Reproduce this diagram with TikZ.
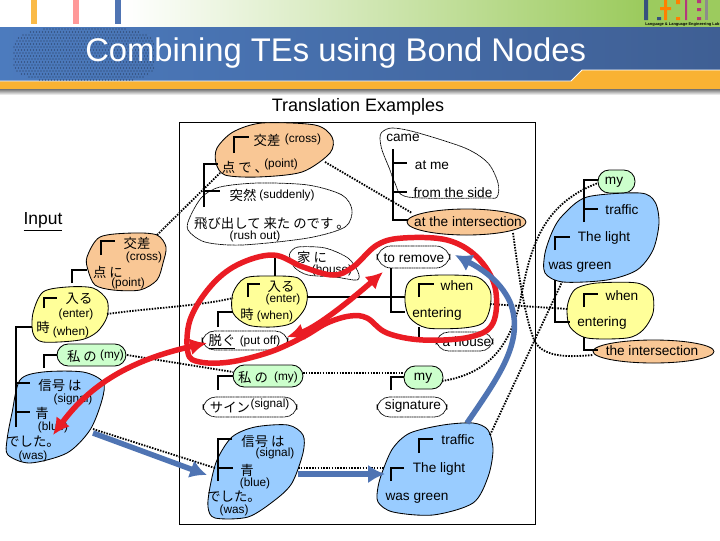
\documentclass[tikz,border=0pt]{standalone}
\usepackage{fontspec}
\setmainfont{Liberation Sans}
\newfontfamily\jpfont{Noto Sans CJK JP}
\usepackage{tikz}
\usetikzlibrary{arrows.meta,positioning,shapes.geometric}
\definecolor{ink}{HTML}{000000}
\definecolor{bandL}{HTML}{4C7BBE}
\definecolor{bandR}{HTML}{3F5F94}
\definecolor{leaf}{HTML}{9CCB5E}
\definecolor{amber}{HTML}{F9B233}
\definecolor{arrowblue}{HTML}{4F74B3}
\definecolor{arrowred}{HTML}{EA1C24}
\definecolor{bondorange}{HTML}{F9C795}
\definecolor{bondyellow}{HTML}{FFFF99}
\definecolor{bondgreen}{HTML}{CCFFCC}
\definecolor{bondblue}{HTML}{99CCFF}
\tikzset{
  blob/.style={draw=ink,line width=0.6pt,fill=#1},
  thinblob/.style={draw=ink,line width=0.5pt,dash pattern=on 0.9pt off 0.3pt,fill=white},
  tree/.style={draw=ink,line width=1.5pt},
  link/.style={draw=ink,line width=1.3pt,dash pattern=on 1.1pt off 0.9pt},
  redflow/.style={draw=arrowred,line width=3.9pt},
  redhead/.style={{Latex[length=4.2mm,width=4.2mm]}-{Latex[length=4.2mm,width=4.2mm]}},
  blueflow/.style={draw=arrowblue,line width=3.9pt,-{Latex[length=4.2mm,width=4.6mm]}},
  jp/.style={font=\jpfont\fontsize{9.5}{11}\selectfont,inner sep=0pt},
  gloss/.style={font=\fontsize{8.4}{10}\selectfont,inner sep=0pt},
  eng/.style={font=\fontsize{9.7}{11}\selectfont,inner sep=0pt},
}
\begin{document}
\begin{tikzpicture}[x=0.025cm,y=-0.025cm]
  \useasboundingbox (0,0) rectangle (720,540);
  % header
  \fill[white] (0,0) rectangle (720,540);
  \shade[left color=white,right color=leaf] (125,0) rectangle (640,27);
  \fill[leaf] (640,0) rectangle (720,27);
  \fill[amber!90!white] (31,0) rectangle (37,24);
  \fill[red!40!white] (73,0) rectangle (79,24);
  \fill[arrowblue] (115,0) rectangle (121,24);
  \shade[top color=black!55,bottom color=white] (0,89) rectangle (720,95);
  \fill[amber] (0,81) rectangle (720,89);
  \shade[left color=bandL,right color=bandR] (0,27) -- (720,27) -- (720,70) -- (582,70) -- (571,81) -- (0,81) -- cycle;
  \fill[amber] (571,81) -- (582,70) -- (720,70) -- (720,82) -- (571,82) -- cycle;
  \draw[white,line width=0.6pt] (0,81) -- (571,81) -- (582,70) -- (720,70);
  \foreach \i in {0,...,46}
    \foreach \j in {0,...,17}{
      \pgfmathsetmacro{\dotx}{14+\i*3+mod(\j,2)*1.5}
      \pgfmathsetmacro{\doty}{29+\j*3}
      \pgfmathparse{abs((\dotx-85)/73)^3+abs((\doty-55)/28)^3<1?1:0}
      \ifnum\pgfmathresult=1 \fill[bandR!60!black] (\dotx,\doty) circle (0.6);\fi
    }
  % logo
  \fill[arrowblue!70!black] (644,0) rectangle (648,20) (657,17) rectangle (661,20);
  \fill[orange] (664,0) rectangle (667,20) (660,7) rectangle (671,10) (676,0) rectangle (680,4) (676,17) rectangle (680,20);
  \fill[magenta!70!black] (685,0) rectangle (687,20) (697,0) rectangle (701,3) (697,8) rectangle (701,11) (697,17) rectangle (701,20);
  \fill[black!45] (705,0) rectangle (708,20);
  \node[font=\bfseries\fontsize{2.8}{3}\selectfont,inner sep=0pt,anchor=west] (logotext) at (645,24) {Language \& Language Engineering Lab};
  \node[font=\fontsize{23.3}{27}\selectfont,text=white,inner sep=0pt,anchor=west] (title) at (85,53) {Combining TEs using Bond Nodes};
  \node[fill=white,font=\fontsize{12.8}{15}\selectfont,inner sep=1pt] (examples) at (358,107) {Translation Examples};
  \node[font=\fontsize{12.4}{14}\selectfont,inner sep=0pt] (input) at (43,222) {\underline{Input}};
  \draw[ink,line width=0.7pt] (179,122) rectangle (535,524);
  % bond nodes
  \draw[blob=bondorange] plot[smooth cycle] coordinates {(100,237) (133,233) (157,235) (166,247) (163,263) (157,280) (140,290) (113,290) (95,285) (88,270) (87,257)};
  \draw[blob=bondyellow] plot[smooth cycle] coordinates {(43,292) (67,287) (93,288) (107,300) (107,317) (97,332) (80,340) (43,342) (33,333) (33,313)};
  \draw[blob=bondgreen,rounded corners=8pt] (57,344) rectangle (126,366);
  \draw[blob=bondblue] plot[smooth cycle] coordinates {(20,380) (43,372) (83,372) (103,382) (102,400) (90,430) (67,453) (30,463) (8,455) (7,440) (12,413)};
  \draw[blob=bondorange] plot[smooth cycle] coordinates {(217,148) (233,132) (262,123) (315,125) (332,137) (330,153) (302,172) (258,177) (225,175) (216,163)};
  \draw[thinblob] plot[smooth cycle] coordinates {(220,187) (258,183) (308,185) (342,195) (352,210) (345,227) (308,238) (242,245) (205,242) (188,230) (190,217) (202,197)};
  \draw[thinblob] plot[smooth cycle] coordinates {(382,132) (392,128) (415,132) (465,148) (488,163) (498,183) (497,197) (485,198) (408,197) (395,183) (390,170) (382,150) (380,138)};
  \node[blob=bondorange,ellipse,minimum width=119*0.025cm,minimum height=26*0.025cm,inner sep=0pt] (oval1) at (466.5,222) {};
  \draw[thinblob] plot[smooth cycle] coordinates {(290,253) (298,247) (325,248) (348,258) (358,272) (357,280) (335,277) (308,275) (295,268) (290,258)};
  \draw[blob=bondyellow] plot[smooth cycle] coordinates {(233,293) (245,278) (272,276) (298,278) (307,292) (305,308) (292,323) (272,327) (248,325) (233,313)};
  \draw[thinblob,rounded corners=9pt] (202,331) rectangle (288,350);
  \draw[thinblob,rounded corners=10pt] (377,246) rectangle (450,268);
  \draw[blob=bondyellow] plot[smooth cycle] coordinates {(407,285) (417,277) (443,275) (477,277) (490,290) (490,308) (483,323) (463,328) (427,328) (410,318) (405,302)};
  \draw[thinblob,rounded corners=9pt] (436,332) rectangle (493,351);
  \draw[blob=bondgreen,rounded corners=8pt] (233,365) rectangle (303,387);
  \draw[thinblob,rounded corners=9pt] (203,397) rectangle (297,417);
  \draw[blob=bondblue] plot[smooth cycle] coordinates {(217,460) (232,437) (255,427) (288,425) (303,435) (303,453) (292,483) (275,500) (248,517) (215,518) (208,507) (210,487)};
  \draw[blob=bondgreen,rounded corners=8pt] (404,366) rectangle (443,389);
  \draw[thinblob,rounded corners=9pt] (377,397) rectangle (447,417);
  \draw[blob=bondblue] plot[smooth cycle] coordinates {(393,448) (410,433) (443,425) (473,423) (488,430) (493,450) (488,477) (473,503) (433,515) (393,512) (378,502) (378,487) (383,470)};
  \draw[blob=bondgreen,rounded corners=8pt] (598,170) rectangle (635,193);
  \draw[blob=bondblue] plot[smooth cycle] coordinates {(563,215) (587,197) (640,193) (655,202) (659,223) (653,250) (637,270) (607,280) (563,282) (545,273) (545,253) (553,230)};
  \draw[blob=bondyellow] plot[smooth cycle] coordinates {(577,288) (597,283) (637,283) (652,293) (653,313) (643,330) (627,338) (587,338) (570,327) (567,310) (570,297)};
  \node[blob=bondorange,ellipse,minimum width=121*0.025cm,minimum height=23*0.025cm,inner sep=0pt] (oval2) at (653.5,351.5) {};
  % tree lines
  \draw[tree] (101,255) -- (101,241) -- (115,241);
  \draw[tree] (72,283) -- (72,270) -- (87,270);
  \draw[tree] (44,308) -- (44,298) -- (57,298);
  \draw[tree] (16,427) -- (16,327) -- (32,327);
  \draw[tree] (44,368) -- (44,355) -- (57,355);
  \draw[tree] (16,383) -- (30,383);
  \draw[tree] (16,412) -- (30,412);
  \draw[tree] (234,153) -- (234,137) -- (249,137);
  \draw[tree] (204,207) -- (204,164) -- (218,164);
  \draw[tree] (204,191) -- (220,191);
  \draw[tree] (393,149) -- (393,220) -- (408,220);
  \draw[tree] (393,163) -- (407,163);
  \draw[tree] (393,192) -- (407,192);
  \draw[tree] (275,255) -- (275,276);
  \draw[tree] (248,297) -- (248,284) -- (260,284);
  \draw[tree] (218,327) -- (218,312) -- (233,312);
  \draw[tree] (391,268) -- (391,312) -- (405,312);
  \draw[tree] (307,297) -- (405,297);
  \draw[tree] (419,297) -- (419,284) -- (434,284);
  \draw[tree] (419,327) -- (419,337);
  \draw[tree] (218,390) -- (218,376) -- (233,376);
  \draw[tree] (218,481) -- (218,439) -- (232,439);
  \draw[tree] (218,468) -- (233,468);
  \draw[tree] (391,390) -- (391,377) -- (404,377);
  \draw[tree] (419,453) -- (419,439) -- (433,439);
  \draw[tree] (391,481) -- (391,468) -- (404,468);
  \draw[tree] (584,222) -- (584,180) -- (598,180);
  \draw[tree] (584,209) -- (598,209);
  \draw[tree] (555,250) -- (555,237) -- (570,237);
  \draw[tree] (555,280) -- (555,322) -- (570,322);
  \draw[tree] (584,307) -- (584,294) -- (598,294);
  \draw[tree] (584,337) -- (584,350) -- (598,350);
  % ends of the dotted links
  \coordinate (inOrange) at (157,235);
  \coordinate (exOrange) at (220,173);
  \coordinate (exOrangeR) at (325,162);
  \coordinate (outOrange) at (412,213);
  \coordinate (outOrangeB) at (513,233);
  \coordinate (tgtOrange) at (593,355);
  \coordinate (inYellow) at (107,314);
  \coordinate (exYellow) at (233,298);
  \coordinate (outYellow) at (490,304);
  \coordinate (tgtYellow) at (568,309);
  \coordinate (inGreen) at (127,355);
  \coordinate (exGreen) at (233,372);
  \coordinate (exGreenR) at (303,373);
  \coordinate (outGreen) at (404,373);
  \coordinate (outGreenR) at (442,381);
  \coordinate (tgtGreen) at (598,183);
  \coordinate (inBlue) at (93,429);
  \coordinate (exBlue) at (215,468);
  \coordinate (exBlueR) at (298,468);
  \coordinate (outBlue) at (385,468);
  \coordinate (outBlueR) at (490,435);
  \coordinate (tgtBlue) at (562,282);
  \draw[link] (inOrange) -- (exOrange);
  \draw[link] (exOrangeR) -- (outOrange);
  \draw[link] (outOrangeB) .. controls (518,270) and (525,320) .. (535,342) .. controls (545,358) and (570,357) .. (tgtOrange);
  \draw[link] (inYellow) .. controls (150,308) and (200,306) .. (exYellow);
  \draw[link] (outYellow) -- (tgtYellow);
  \draw[link] (inGreen) -- (exGreen);
  \draw[link] (exGreenR) -- (outGreen);
  \draw[link] (outGreenR) .. controls (480,375) and (508,355) .. (520,302) .. controls (530,250) and (540,205) .. (tgtGreen);
  \draw[link] (inBlue) -- (exBlue);
  \draw[link] (exBlueR) -- (outBlue);
  \draw[link] (outBlueR) -- (tgtBlue);
  % texts of the input
  \node[jp] (in1) at (137,243) {交差};
  \node[gloss] (in1g) at (144,257) {(cross)};
  \node[jp] (in2) at (108,272) {点 に};
  \node[gloss] (in2g) at (128,283) {(point)};
  \node[jp] (in3) at (79,299) {入る};
  \node[gloss] (in3g) at (76,314) {(enter)};
  \node[jp] (in4) at (43,327) {時};
  \node[gloss] (in4g) at (71,332) {(when)};
  \node[jp] (in5) at (82,356) {私 の};
  \node[gloss] (in5g) at (112,355) {(my)};
  \node[jp] (in6) at (60,385) {信号 は};
  \node[gloss] (in6g) at (73,399) {(signal)};
  \node[jp] (in7) at (42,413) {青};
  \node[gloss] (in7g) at (53,427) {(blue)};
  \node[jp] (in8) at (33,442) {でした。};
  \node[gloss] (in8g) at (33,456) {(was)};
  % texts of the examples
  \node[jp] (ex1) at (267,140) {交差};
  \node[gloss] (ex1g) at (303,139) {(cross)};
  \node[jp] (ex2) at (245,167) {点 で 、};
  \node[gloss] (ex2g) at (281,164) {(point)};
  \node[jp] (ex3) at (243,195) {突然};
  \node[gloss] (ex3g) at (287,195) {(suddenly)};
  \node[jp] (ex4) at (272,223) {飛び出して 来た のです 。};
  \node[gloss] (ex4g) at (255,236) {(rush out)};
  \node[eng] (ex5) at (403,138) {came};
  \node[eng] (ex6) at (432,165) {at me};
  \node[eng] (ex7) at (453,193) {from the side};
  \node[eng] (ex8) at (468,222) {at the intersection};
  \node[jp] (ex9) at (312,257) {家 に};
  \node[gloss] (ex9g) at (332,270) {(house)};
  \node[jp] (ex10) at (281,287) {入る};
  \node[gloss] (ex10g) at (283,299) {(enter)};
  \node[jp] (ex11) at (247,314) {時};
  \node[gloss] (ex11g) at (275,316) {(when)};
  \node[jp] (ex12) at (222,342) {\underline{脱ぐ}};
  \node[gloss] (ex12g) at (260,341) {(put off)};
  \node[eng] (ex13) at (414,258) {to remove};
  \node[eng] (ex14) at (457,286) {when};
  \node[eng] (ex15) at (437,314) {entering};
  \node[eng] (ex16) at (467,342) {a house};
  \node[jp] (ex17) at (253,377) {私 の};
  \node[gloss] (ex17g) at (286,377) {(my)};
  \node[jp] (ex18) at (230,408) {サイン};
  \node[gloss] (ex18g) at (270,404) {(signal)};
  \node[eng] (ex19) at (423,378) {my};
  \node[eng] (ex20) at (413,406) {signature};
  \node[jp] (ex21) at (263,441) {信号 は};
  \node[gloss] (ex21g) at (275,453) {(signal)};
  \node[jp] (ex22) at (247,470) {青};
  \node[gloss] (ex22g) at (255,483) {(blue)};
  \node[jp] (ex23) at (234,497) {でした。};
  \node[gloss] (ex23g) at (234,510) {(was)};
  \node[eng] (ex24) at (458,440) {traffic};
  \node[eng] (ex25) at (439,469) {The light};
  \node[eng] (ex26) at (417,498) {was green};
  % texts of the target
  \node[eng] (out1) at (614,182) {my};
  \node[eng] (out2) at (622,210) {traffic};
  \node[eng] (out3) at (604,238) {The light};
  \node[eng] (out4) at (580,267) {was green};
  \node[eng] (out5) at (622,296) {when};
  \node[eng] (out6) at (602,323) {entering};
  \node[eng] (out7) at (652,351) {the intersection};
  % combining arrows
  \coordinate (redIn) at (53,435);
  \coordinate (redPut) at (207,343);
  \coordinate (redPutR) at (287,337);
  \coordinate (redRemove) at (383,272);
  \coordinate (blueIn) at (93,433);
  \coordinate (blueEx) at (207,475);
  \coordinate (blueExR) at (298,474);
  \coordinate (blueOut) at (385,474);
  \coordinate (blueTop) at (467,423);
  \coordinate (blueTip) at (455,255);
  \draw[redflow] plot[smooth cycle,tension=0.6] coordinates {(188,353) (190,320) (210,287) (237,265) (273,255) (303,267) (333,275) (353,267) (377,245) (403,238) (447,240) (477,257) (495,287) (493,323) (470,337) (423,340) (387,333) (367,318) (350,316) (327,323) (303,337) (270,352) (230,362) (200,362)};
  \draw[redflow,redhead] (redIn) .. controls (90,385) and (130,360) .. (redPut);
  \draw[redflow,redhead] (redPutR) .. controls (315,328) and (345,305) .. (redRemove);
  \draw[blueflow] (blueIn) -- (blueEx);
  \draw[blueflow] (blueExR) -- (blueOut);
  \draw[blueflow] (blueTop) .. controls (500,375) and (525,340) .. (510,302) .. controls (500,280) and (480,268) .. (blueTip);
\end{tikzpicture}
\end{document}
